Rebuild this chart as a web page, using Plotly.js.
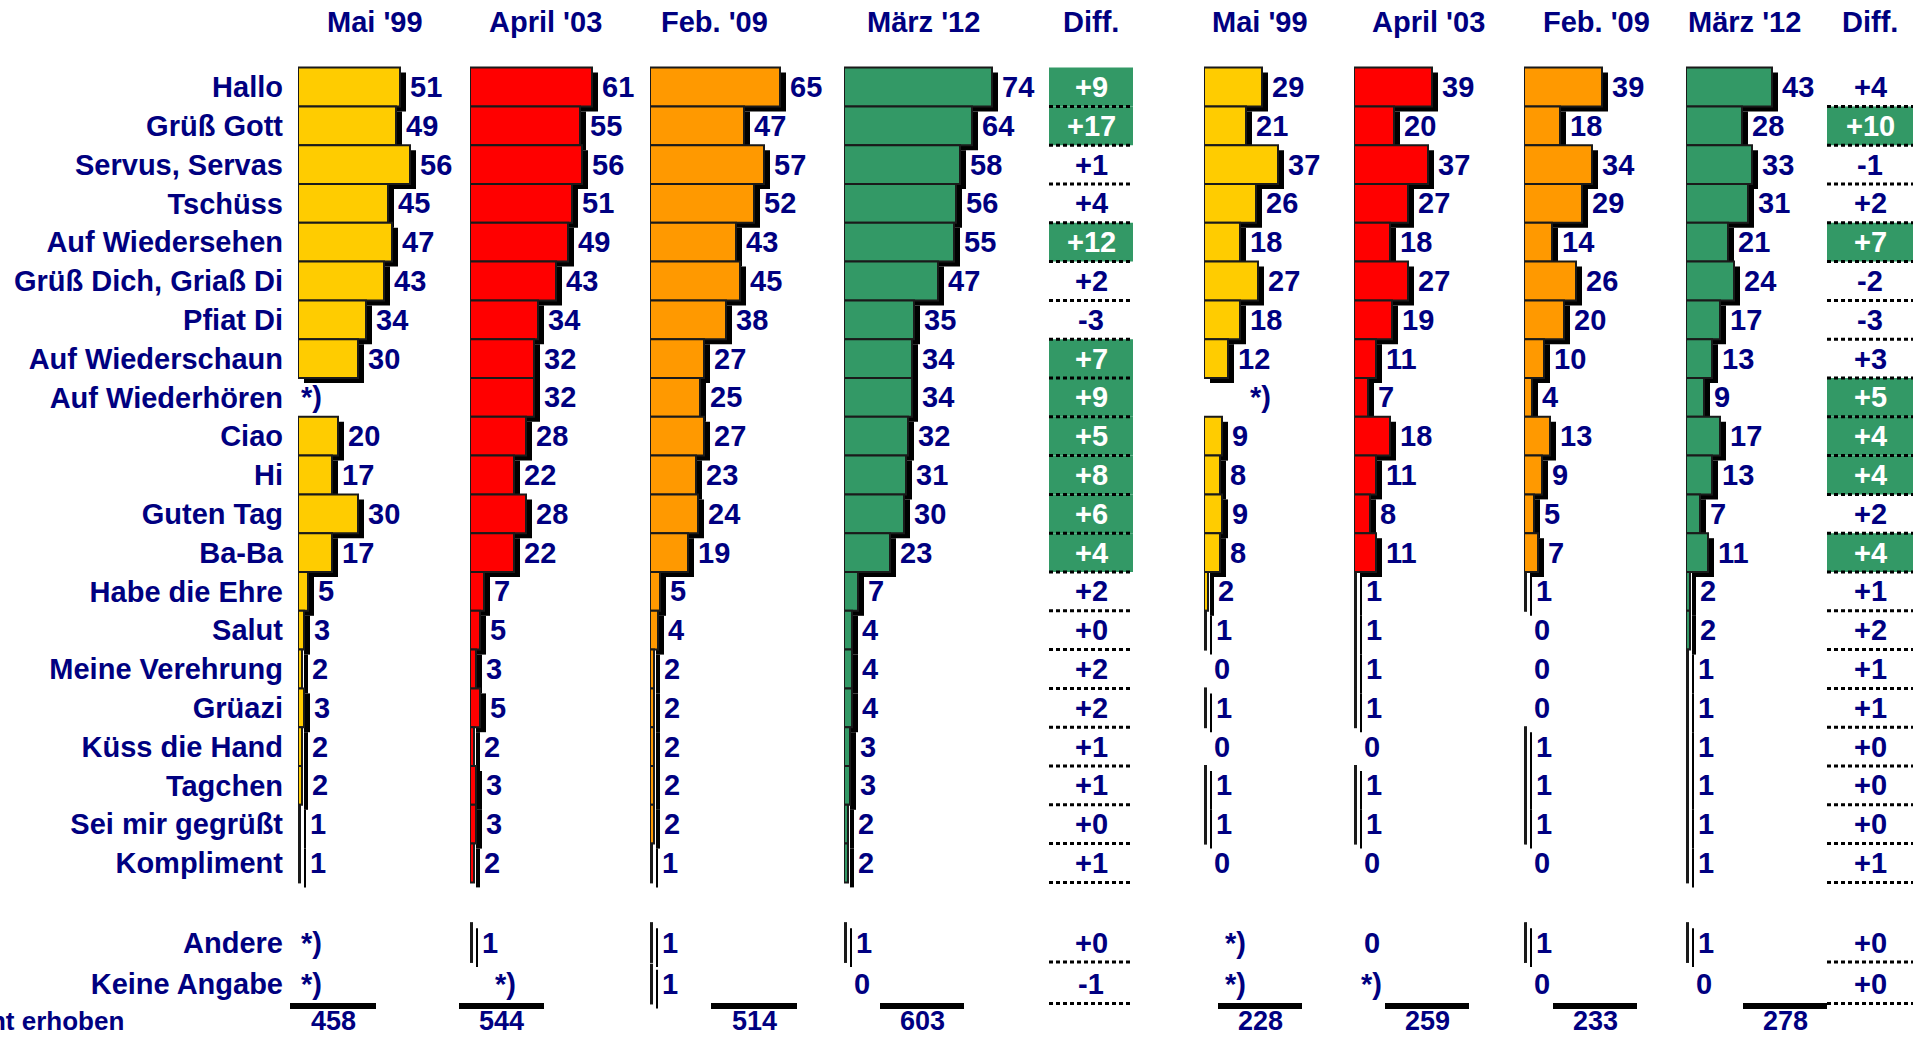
<!DOCTYPE html>
<html><head><meta charset="utf-8">
<script src="https://cdn.plot.ly/plotly-3.0.1.min.js"></script>
<style>html,body{margin:0;padding:0;background:#fff;overflow:hidden}</style>
</head><body><div id="chart" style="width:1923px;height:1037px"></div>
<script>
// ---------------- DATA ----------------
const categories = ["Hallo","Grüß Gott","Servus, Servas","Tschüss","Auf Wiedersehen","Grüß Dich, Griaß Di","Pfiat Di","Auf Wiederschaun","Auf Wiederhören","Ciao","Hi","Guten Tag","Ba-Ba","Habe die Ehre","Salut","Meine Verehrung","Grüazi","Küss die Hand","Tagchen","Sei mir gegrüßt","Kompliment","Andere","Keine Angabe"];
const periods = ["Mai '99","April '03","Feb. '09","März '12"];
const diffHeader = "Diff.";
// null = "*)" (nicht erhoben)
const leftMai99   = [51,49,56,45,47,43,34,30,null,20,17,30,17,5,3,2,3,2,2,1,1,null,null];
const leftApr03   = [61,55,56,51,49,43,34,32,32,28,22,28,22,7,5,3,5,2,3,3,2,1,null];
const leftFeb09   = [65,47,57,52,43,45,38,27,25,27,23,24,19,5,4,2,2,2,2,2,1,1,1];
const leftMar12   = [74,64,58,56,55,47,35,34,34,32,31,30,23,7,4,4,4,3,3,2,2,1,0];
const leftDiff    = [9,17,1,4,12,2,-3,7,9,5,8,6,4,2,0,2,2,1,1,0,1,0,-1];
const leftDiffSig = [1,1,0,0,1,0,0,1,1,1,1,1,1,0,0,0,0,0,0,0,0,0,0];
const rightMai99  = [29,21,37,26,18,27,18,12,null,9,8,9,8,2,1,0,1,0,1,1,0,null,null];
const rightApr03  = [39,20,37,27,18,27,19,11,7,18,11,8,11,1,1,1,1,0,1,1,0,0,null];
const rightFeb09  = [39,18,34,29,14,26,20,10,4,13,9,5,7,1,0,0,0,1,1,1,0,1,0];
const rightMar12  = [43,28,33,31,21,24,17,13,9,17,13,7,11,2,2,1,1,1,1,1,1,1,0];
const rightDiff   = [4,10,-1,2,7,-2,-3,3,5,4,4,2,4,1,2,1,1,0,0,0,1,0,0];
const rightDiffSig= [0,1,0,0,1,0,0,0,1,1,1,0,1,0,0,0,0,0,0,0,0,0,0];
const totalsLeft  = [458,544,514,603];
const totalsRight = [228,259,233,278];
const footnote = "*) = nicht erhoben";

// ---------------- LAYOUT CONSTANTS ----------------
const W = 1923, H = 1037;
const ROW0 = 87, ROWH = 38.8, PPU = 2.0;
const NAVY = '#000080';
const FONT = 'Liberation Sans, Arial, Helvetica, sans-serif';
const FS = 29;
const panelStart = [298,470,650,844,1204,1354,1524,1686];
const panelColor = ['#ffcc00','#ff0000','#ff9900','#339966','#ffcc00','#ff0000','#ff9900','#339966'];
const headerX = [375,545,714,923,1260,1428,1596,1744];
const diffHeaderX = [1091,1870];
const diffBox = [[1049,1133],[1827,1913]];
const totalBarX = [[290,376],[459,544],[711,797],[880,964],[1218,1302],[1385,1469],[1553,1637],[1743,1827]];
const noteOffset = {'0-8':1,'0-21':1,'0-22':1,'1-22':23,'4-8':44,'4-21':19,'4-22':19,'5-22':5};
const PANEL_W = 180;

const panels = [leftMai99,leftApr03,leftFeb09,leftMar12,rightMai99,rightApr03,rightFeb09,rightMar12];
const diffs = [[leftDiff,leftDiffSig],[rightDiff,rightDiffSig]];
const totals = totalsLeft.concat(totalsRight);
const yPos = categories.map((c,i)=> i<21 ? i : (i===21 ? 22.05 : 23.12));

const traces = [], annotations = [], shapes = [];
const layout = {
  width: W, height: H, margin:{l:0,r:0,t:0,b:0},
  paper_bgcolor:'#fff', plot_bgcolor:'rgba(0,0,0,0)',
  showlegend:false, hovermode:false, barmode:'overlay',
  yaxis:{range:[(H-ROW0)/ROWH, -ROW0/ROWH], domain:[0,1], anchor:'x',
    tickvals:yPos, ticktext:categories, ticks:'', showgrid:false, zeroline:false, showline:false,
    ticklabelstandoff:14,
    tickfont:{family:FONT,size:FS,color:NAVY,weight:'bold'}},
};
const fontN = (c,s)=>({family:FONT,size:s||FS,color:c||NAVY,weight:'bold'});

panels.forEach((vals,k)=>{
  const ax = k===0 ? 'x' : 'x'+(k+1);
  const axName = k===0 ? 'xaxis' : 'xaxis'+(k+1);
  layout[axName] = {domain:[panelStart[k]/W,(panelStart[k]+PANEL_W)/W], range:[0,PANEL_W/PPU],
    anchor:'y', visible:false, fixedrange:true};
  const xs = vals.map(v=> v ? v : null);
  traces.push({type:'bar',orientation:'h',xaxis:ax,yaxis:'y',y:yPos,x:xs,base:6/PPU,width:1,
    offset:-0.5+5/ROWH, marker:{color:'#000',line:{width:0}}, hoverinfo:'skip'});
  traces.push({type:'bar',orientation:'h',xaxis:ax,yaxis:'y',y:yPos,x:xs,base:0,width:1,
    offset:-0.5, marker:{color:panelColor[k],line:{color:'#1a1a1a',width:2}}, hoverinfo:'skip'});
  vals.forEach((v,i)=>{
    let x, t;
    if (v===null){ t='*)'; const o = noteOffset[k+'-'+i]; x = (o!==undefined?o:10)/PPU; }
    else { t=String(v); x = v + 8/PPU; }
    annotations.push({xref:ax,yref:'y',x:x,y:yPos[i],text:t,showarrow:false,xanchor:'left',yanchor:'middle',font:fontN()});
  });
  annotations.push({xref:'paper',yref:'paper',x:headerX[k]/W,y:1-22/H,text:periods[k%4],showarrow:false,
    xanchor:'center',yanchor:'middle',font:fontN()});
  const tb = totalBarX[k];
  shapes.push({type:'rect',xref:'paper',yref:'paper',x0:tb[0]/W,x1:tb[1]/W,y0:1-1009/H,y1:1-1003/H,
    fillcolor:'#000',line:{width:0}});
  annotations.push({xref:'paper',yref:'paper',x:(tb[0]+tb[1])/2/W,y:1-1021/H,text:String(totals[k]),showarrow:false,
    xanchor:'center',yanchor:'middle',borderpad:0,font:fontN(NAVY,27)});
});

diffs.forEach(([d,sig],j)=>{
  const n = 9+j, ax = 'x'+n;
  layout['xaxis'+n] = {domain:[diffBox[j][0]/W,diffBox[j][1]/W], range:[0,1], anchor:'y', visible:false, fixedrange:true};
  traces.push({type:'bar',orientation:'h',xaxis:ax,yaxis:'y',y:yPos,x:sig.map(s=>s?1:null),base:0,width:1,offset:-0.5,
    marker:{color:'#339966',line:{width:0}},hoverinfo:'skip'});
  d.forEach((v,i)=>{
    annotations.push({xref:ax,yref:'y',x:0.5,y:yPos[i],text:(v>=0?'+':'')+v,showarrow:false,xanchor:'center',yanchor:'middle',
      font:fontN(sig[i]?'#ffffff':NAVY)});
    shapes.push({type:'line',xref:ax,yref:'y',x0:0,x1:1,y0:yPos[i]+0.5,y1:yPos[i]+0.5,
      line:{color:'#000',width:3,dash:'4px,3px'}});
  });
  annotations.push({xref:'paper',yref:'paper',x:diffHeaderX[j]/W,y:1-22/H,text:diffHeader,showarrow:false,
    xanchor:'center',yanchor:'middle',font:fontN()});
});

annotations.push({xref:'paper',yref:'paper',x:125/W,y:1-1021/H,text:footnote,showarrow:false,xanchor:'right',yanchor:'middle',
  borderpad:0,font:{family:FONT,size:26,color:NAVY,weight:'bold'}});

layout.annotations = annotations;
layout.shapes = shapes;
Plotly.newPlot('chart', traces, layout, {staticPlot:true, displayModeBar:false});
</script>
</body></html>
